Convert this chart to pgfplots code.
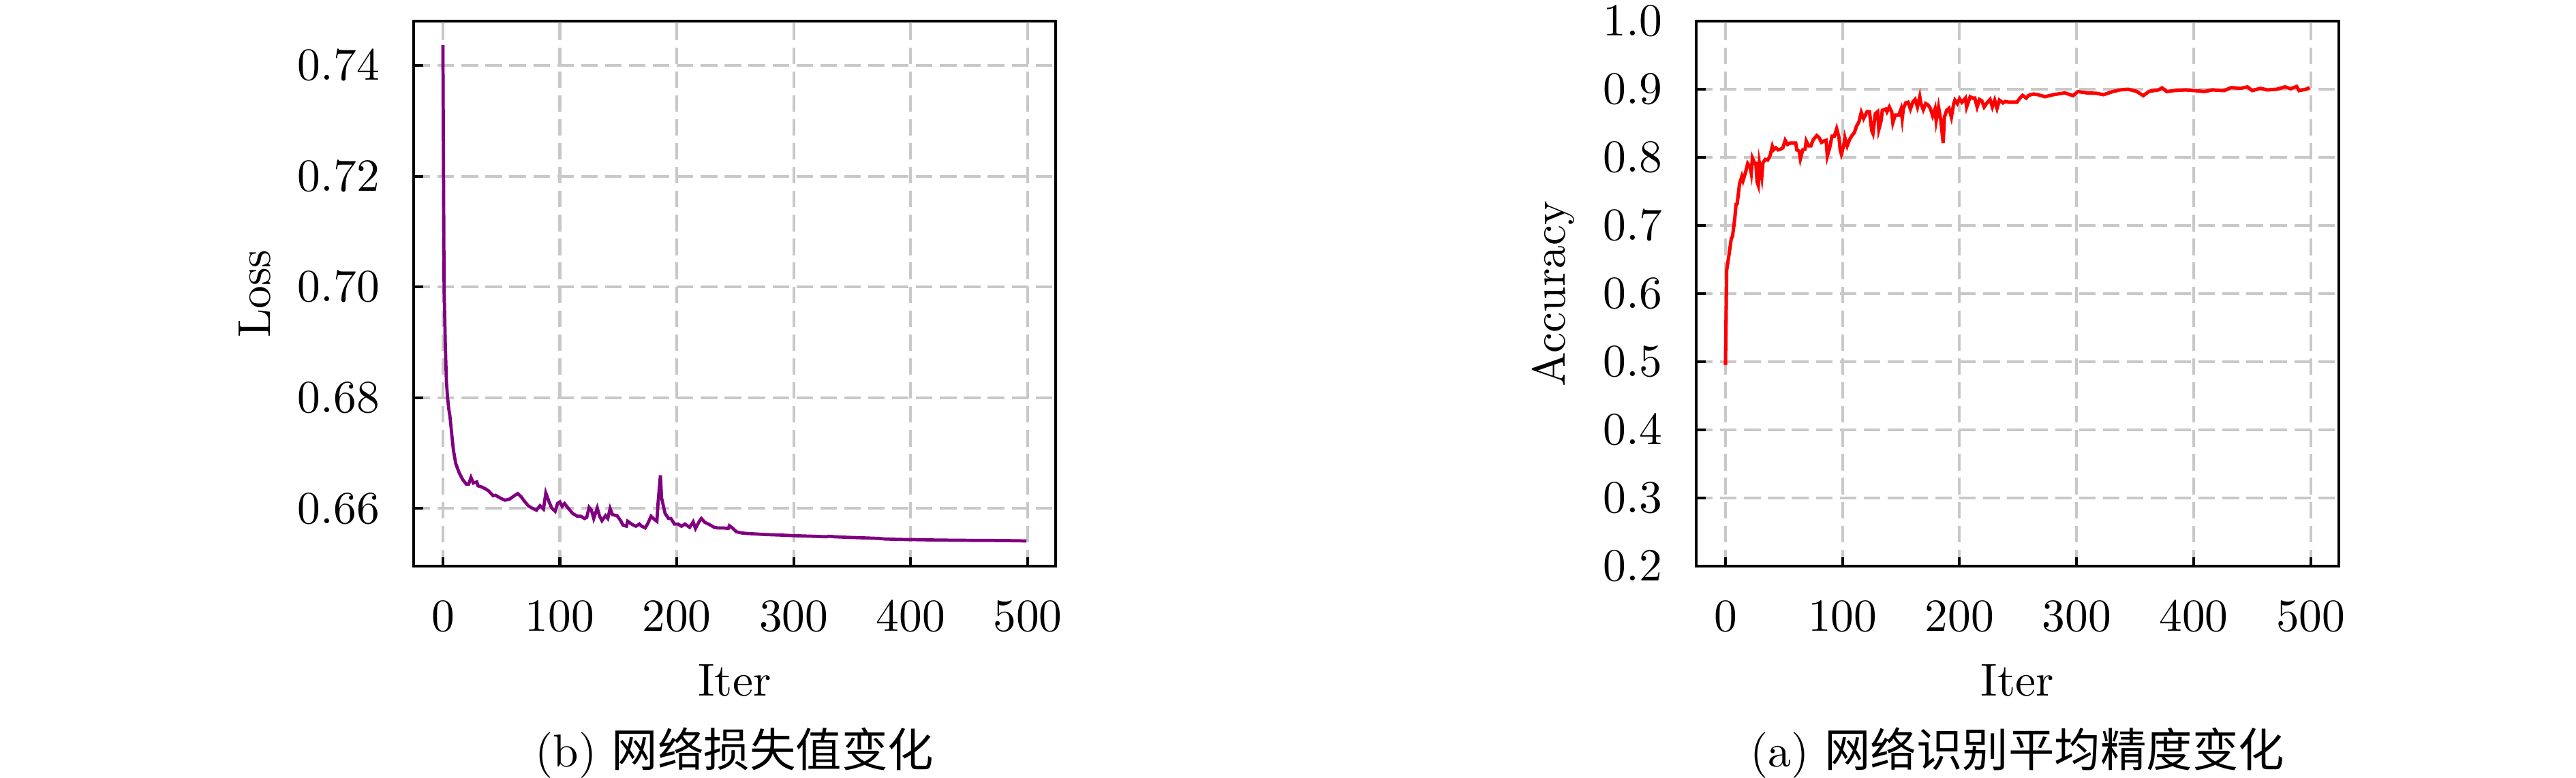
\documentclass[border=0pt]{standalone}
\usepackage{fontspec}
\newfontfamily\cjk{Noto Sans CJK SC}
\usepackage{pgfplots}
\pgfplotsset{compat=1.18}

\definecolor{gridgray}{RGB}{200,200,200}
\definecolor{losspurple}{RGB}{128,0,128}

\pgfplotsset{
  panel/.style={
    scale only axis,
    width=139.56pt, height=118.52pt,
    anchor=south west,
    xmin=-25, xmax=524,
    xtick={0,100,200,300,400,500},
    axis line style={line width=0.6pt},
    tick style={line width=0.6pt, black},
    major tick length=2pt,
    tick align=inside,
    xtick pos=bottom, ytick pos=left,
    grid=major,
    major grid style={gridgray, line width=0.6pt, dash pattern=on 3.6pt off 1.6pt},
    xticklabel style={yshift=-4.2pt},
    yticklabel style={xshift=-3.9pt},
    xlabel={Iter},
    xlabel style={at={(axis description cs:0.5,-0.2375)}, anchor=base},
  }
}

\begin{document}
\begin{tikzpicture}
\path[use as bounding box] (0,0) rectangle (560pt,169.04pt);

% loss
\begin{axis}[
  panel,
  at={(89.93pt,45.93pt)},
  ymin=0.6496, ymax=0.7480,
  ytick={0.66,0.68,0.70,0.72,0.74},
  yticklabel style={/pgf/number format/.cd, fixed, fixed zerofill, precision=2},
  ylabel={Loss},
  ylabel style={at={(axis description cs:-0.248,0.5)}, anchor=center},
]
\addplot[losspurple, line width=0.7pt] coordinates {
(0,0.7437) (1,0.7000) (2,0.6900) (3,0.6829) (4,0.6800) (5,0.6780) (6,0.6767)
(8,0.6725) (9,0.6705) (11,0.6681) (14,0.6664) (17,0.6652) (20,0.6644) (22,0.6644)
(24,0.6656) (26,0.6646) (29,0.6648) (30,0.6641) (33,0.6639) (36,0.6636) (39,0.6632)
(43,0.6623) (45,0.6624) (49,0.6619) (53,0.6615) (57,0.6617) (61,0.6623) (64,0.6627)
(67,0.6621) (69,0.6615) (73,0.6605) (76,0.6601) (80,0.6597) (83,0.6605) (86,0.6599)
(88,0.6628) (91,0.6611) (93,0.6601) (96,0.6595) (98,0.6609) (100,0.6612) (102,0.6604)
(104,0.6609) (107,0.6601) (111,0.6591) (115,0.6586) (118,0.6586) (121,0.6582) (123,0.6584)
(125,0.6602) (127,0.6597) (129,0.6582) (132,0.6601) (134,0.6586) (136,0.6578) (139,0.6587)
(141,0.6582) (143,0.6600) (145,0.6589) (149,0.6587) (152,0.6578) (154,0.6570) (157,0.6568)
(158,0.6577) (162,0.6571) (165,0.6568) (168,0.6572) (170,0.6568) (173,0.6565) (175,0.6572)
(178,0.6586) (181,0.6580) (183,0.6577) (184,0.6611) (186,0.6660) (187,0.6619) (190,0.6591)
(193,0.6582) (195,0.6582) (198,0.6572) (201,0.6572) (204,0.6568) (207,0.6572) (211,0.6566)
(214,0.6576) (216,0.6564) (219,0.6576) (221,0.6582) (224,0.6575) (228,0.6571) (232,0.6566)
(235,0.6565) (240,0.6565) (244,0.6564) (245,0.6569) (248,0.6564) (251,0.6558) (255,0.6556)
(260,0.6555) (268,0.6554) (276,0.6553) (290,0.6552) (300,0.6551) (315,0.6550) (328,0.6549)
(330,0.6550) (335,0.6549) (346,0.6548) (360,0.6547) (373,0.6546) (378,0.6545) (390,0.65442)
(400,0.6544) (420,0.65432) (440,0.65427) (470,0.65423) (485,0.65420) (499,0.65415)
};
\end{axis}

% accuracy
\begin{axis}[
  panel,
  at={(368.74pt,45.93pt)},
  width=139.7pt,
  ymin=0.2, ymax=1.0,
  ytick={0.2,0.3,0.4,0.5,0.6,0.7,0.8,0.9,1.0},
  yticklabel style={/pgf/number format/.cd, fixed, fixed zerofill, precision=1},
  ylabel={Accuracy},
  ylabel style={at={(axis description cs:-0.2227,0.5)}, anchor=center},
]
\addplot[red, line width=0.75pt] coordinates {
(0,0.495) (1,0.634) (3,0.657) (5,0.681) (6,0.684) (8,0.711) (9,0.731) (10,0.732)
(12,0.761) (14,0.772) (15,0.766) (17,0.777) (19,0.791) (21,0.786) (22,0.777) (23,0.799)
(25,0.791) (26,0.791) (27,0.764) (28,0.759) (29,0.791) (31,0.771) (32,0.792) (34,0.797)
(36,0.796) (38,0.802) (40,0.816) (41,0.811) (43,0.814) (45,0.811) (47,0.812) (49,0.814)
(51,0.825) (53,0.819) (55,0.821) (58,0.821) (60,0.821) (61,0.811) (63,0.809) (64,0.798)
(66,0.811) (68,0.812) (69,0.824) (71,0.817) (73,0.817) (75,0.826) (78,0.832) (80,0.829)
(82,0.822) (84,0.824) (86,0.825) (87,0.802) (89,0.814) (91,0.831) (93,0.831) (95,0.842)
(97,0.829) (98,0.811) (99,0.805) (101,0.817) (102,0.829) (104,0.817) (106,0.826) (108,0.832)
(110,0.836) (112,0.846) (114,0.852) (116,0.866) (118,0.857) (121,0.867) (123,0.867) (125,0.839)
(126,0.835) (128,0.864) (130,0.867) (131,0.841) (133,0.854) (134,0.869) (137,0.871) (138,0.867)
(140,0.874) (142,0.867) (143,0.851) (145,0.862) (148,0.862) (150,0.871) (151,0.857) (152,0.872)
(154,0.880) (156,0.881) (158,0.871) (160,0.881) (162,0.885) (164,0.874) (166,0.889) (167,0.879)
(169,0.870) (171,0.879) (173,0.877) (175,0.872) (177,0.861) (179,0.871) (180,0.854) (182,0.874)
(184,0.854) (186,0.821) (187,0.859) (189,0.869) (191,0.872) (193,0.859) (195,0.879) (196,0.884)
(198,0.879) (200,0.886) (202,0.881) (205,0.887) (206,0.874) (209,0.889) (211,0.887) (213,0.887)
(215,0.874) (217,0.885) (219,0.883) (221,0.874) (223,0.879) (226,0.885) (228,0.874) (230,0.884)
(232,0.872) (234,0.884) (237,0.880) (239,0.882) (242,0.881) (245,0.881) (249,0.881) (252,0.888)
(254,0.891) (257,0.887) (259,0.891) (263,0.893) (267,0.892) (273,0.889) (280,0.892) (290,0.8946)
(297,0.8906) (301,0.8966) (309,0.8946) (317,0.8940) (323,0.8920) (331,0.8966) (337,0.8990) (344,0.9000)
(351,0.8970) (357,0.8906) (362,0.8970) (370,0.8990) (373,0.9020) (377,0.8966) (383,0.8980) (393,0.8990)
(401,0.8980) (409,0.8966) (416,0.8990) (426,0.8980) (432,0.9024) (440,0.9013) (446,0.9034) (450,0.8980)
(457,0.9013) (463,0.8990) (471,0.9000) (478,0.9034) (483,0.9007) (488,0.9040) (490,0.8980) (496,0.9000)
(499,0.9024)
};
\end{axis}

\node[anchor=base] at (159.7pt,2.37pt) {(b) {\cjk 网络损失值变化}};
\node[anchor=base] at (438.6pt,2.37pt) {(a) {\cjk 网络识别平均精度变化}};
\end{tikzpicture}
\end{document}
